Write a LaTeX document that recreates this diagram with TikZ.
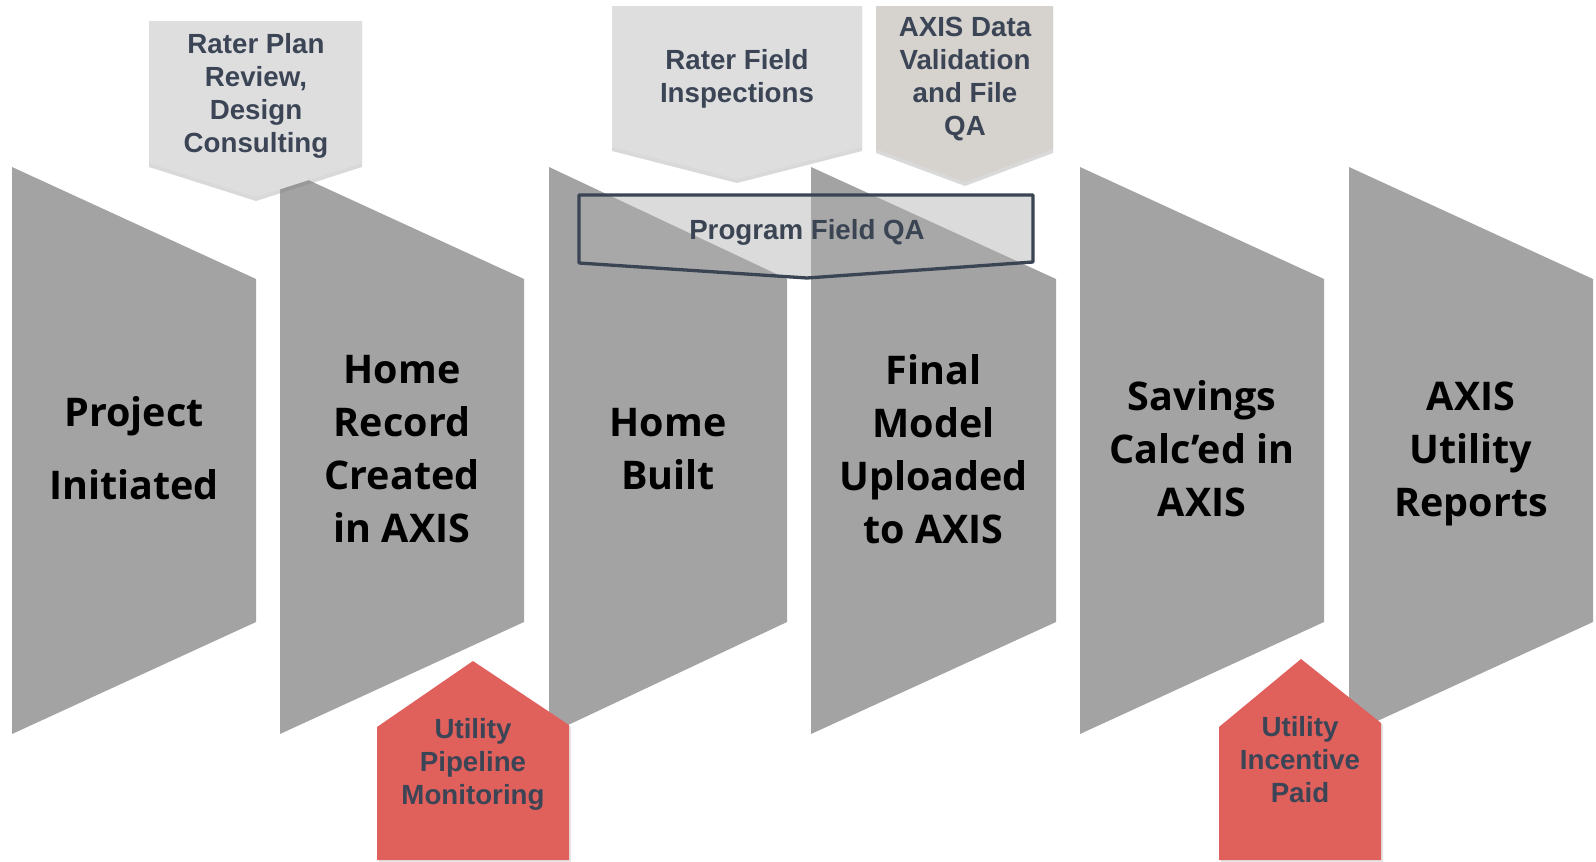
\documentclass[tikz,border=0pt]{standalone}
\usepackage{fontspec}
\setmainfont{Liberation Sans}
\newfontfamily\bigfont{Open Sans}
\usetikzlibrary{shadows}
\definecolor{stepgray}{HTML}{A3A3A3}
\definecolor{calloutgray}{HTML}{DEDEDE}
\definecolor{calloutwarm}{HTML}{D6D3CE}
\definecolor{labelink}{HTML}{3B4556}
\definecolor{housered}{HTML}{E0605C}
\definecolor{qaedge}{HTML}{3A4453}
\definecolor{qafill}{HTML}{B0B0B0}
\begin{document}
\begin{tikzpicture}[x=1pt,y=-1pt,
  stepbox/.style={fill=stepgray},
  steptext/.style={font=\bigfont\bfseries\fontsize{39.5}{53}\selectfont, align=center, text=black, inner sep=0pt},
  callout/.style={fill=calloutgray, drop shadow={opacity=0.3, shadow xshift=0pt, shadow yshift=-4pt}},
  calloutw/.style={fill=calloutwarm, drop shadow={opacity=0.3, shadow xshift=0pt, shadow yshift=-4pt}},
  labeltext/.style={font=\bfseries\fontsize{27.7}{33}\selectfont, align=center, text=labelink, inner sep=0pt},
  qabox/.style={fill=qafill, fill opacity=0.45, draw=qaedge, draw opacity=1, line width=3.3pt, line join=round},
  house/.style={fill=housered, drop shadow={opacity=0.2, shadow xshift=2pt, shadow yshift=-2pt}}
]
\useasboundingbox (0,0) rectangle (1596,862);
% process steps
\foreach \xl/\w in {12/244, 280/244, 549/238, 811/245, 1080/244, 1349/244}{
  \fill[stepbox] (\xl,167) -- ++(\w,112) -- ++(0,343) -- ++(-\w,112) -- cycle;
}
\node[steptext] (s1) at (134,448.5) {Project\\[20pt]Initiated};
\node[steptext] (s2) at (402,449.5) {Home\\Record\\Created\\in AXIS};
\node[steptext] (s3) at (668,449) {Home\\Built};
\node[steptext] (s4) at (933.5,449) {Final\\Model\\Uploaded\\to AXIS};
\node[steptext] (s5) at (1202,449) {Savings\\Calc’ed in\\AXIS};
\node[steptext] (s6) at (1471,454) {AXIS\\Utility\\Reports};
% callouts on top
\fill[callout] (149,21) -- (362,21) -- (362,163) -- (256,197) -- (149,163) -- cycle;
\node[labeltext] (c1) at (256,95.5) {Rater Plan\\Review,\\Design\\Consulting};
\fill[callout] (612,6) -- (862,6) -- (862,147) -- (737,179) -- (612,147) -- cycle;
\node[labeltext] (c2) at (737,78.5) {Rater Field\\Inspections};
\fill[calloutw] (876,6) -- (1053,6) -- (1053,149) -- (965,182) -- (876,149) -- cycle;
\node[labeltext] (c3) at (965,79.5) {AXIS Data\\Validation\\and File\\QA};
% program field QA
\path[qabox] (579,195) -- (1033,195) -- (1033,262) -- (807,278) -- (579,263) -- cycle;
\node[labeltext, text=qaedge] (qa) at (807,232.5) {Program Field QA};
% utility houses
\fill[house] (377,727) -- (473,661) -- (569,725) -- (569,860) -- (377,860) -- cycle;
\node[labeltext] (u1) at (473,764.5) {Utility\\Pipeline\\Monitoring};
\fill[house] (1219,727) -- (1301,659) -- (1381,723) -- (1381,860) -- (1219,860) -- cycle;
\node[labeltext] (u2) at (1300,759.5) {Utility\\Incentive\\Paid};
\end{tikzpicture}
\end{document}
